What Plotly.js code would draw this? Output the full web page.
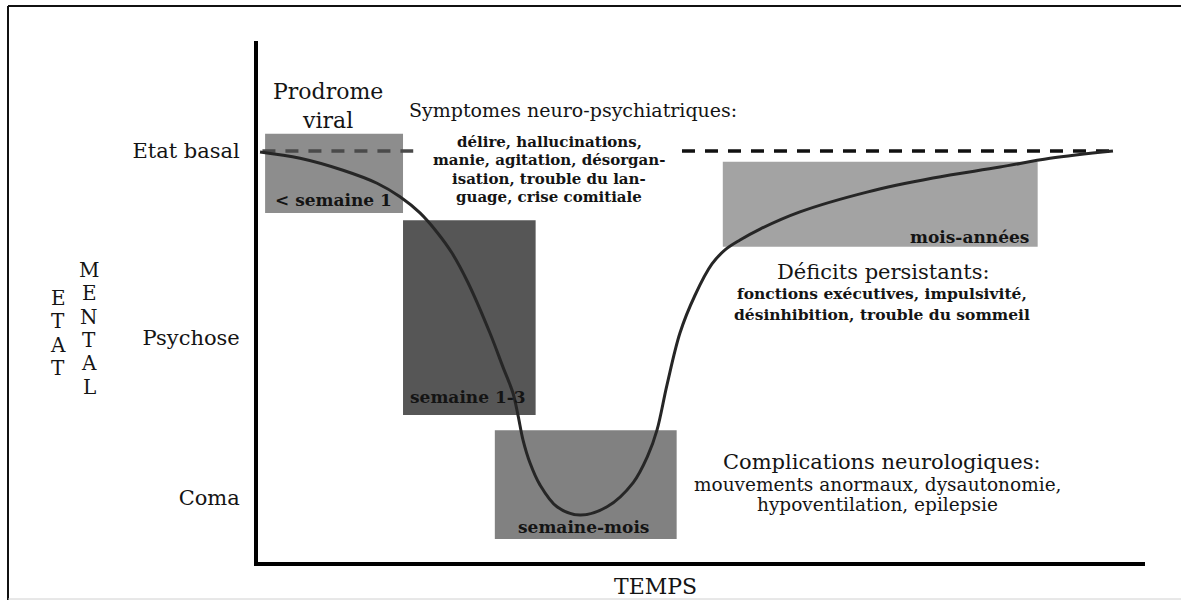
<!DOCTYPE html>
<html><head><meta charset="utf-8">
<script src="https://cdn.plot.ly/plotly-3.0.1.min.js"></script>
<style>html,body{margin:0;padding:0;background:#fff;}#chart{width:1181px;height:600px;}</style>
</head><body><div id="chart"></div>
<script>
// ---- data ----
const timeX  = [0.23, 4.74, 9.58, 13.42, 16.01, 18.26, 20.18, 21.87, 23.68, 26.16, 27.62, 28.75, 29.31, 29.88, 30.67, 31.79, 33.71, 36.30, 39.35, 42.28, 43.97, 44.98, 46.11, 47.58, 49.27, 51.18, 52.65, 54.34, 56.60, 61.10, 68.66, 76.10, 83.65, 89.29, 96.39];
const stateY = [78.7, 77.5, 75.2, 72.7, 70.1, 67.0, 63.3, 59.3, 53.6, 43.9, 37.4, 32.4, 28.2, 23.4, 19.0, 14.8, 10.6, 9.0, 10.6, 15.2, 20.5, 25.3, 34.0, 44.0, 51.2, 57.2, 59.9, 61.8, 63.9, 67.2, 71.0, 73.7, 75.8, 77.5, 78.9];
const levelNames  = ['Coma', 'Psychose', 'Etat basal'];
const levelValues = [12.3, 43.0, 78.9];
const baselineStart = [0.5, 47.8];
const baselineEnd   = [17.5, 96.4];
const phaseLabels = ['< semaine 1', 'semaine 1-3', 'semaine-mois', 'mois-années'];
const phaseStart  = [0.8, 16.35, 26.7, 52.4];
const phaseEnd    = [16.35, 31.3, 47.2, 87.9];
const phaseLow    = [67.0, 28.2, 4.4, 60.5];
const phaseHigh   = [82.2, 65.6, 25.3, 76.8];
const prodromeTitle = ['Prodrome', 'viral'];
const symptomTitle = 'Symptomes neuro-psychiatriques:';
const symptomLines = ['délire, hallucinations,', 'manie, agitation, désorgan-', 'isation, trouble du lan-', 'guage, crise comitiale'];
const deficitTitle = 'Déficits persistants:';
const deficitLines = ['fonctions exécutives, impulsivité,', 'désinhibition, trouble du sommeil'];
const complTitle = 'Complications neurologiques:';
const complLines = ['mouvements anormaux, dysautonomie,', 'hypoventilation, epilepsie'];
const xTitle = 'TEMPS';
const yTitleWords = ['ETAT', 'MENTAL'];

// ---- layout helpers (pixel -> paper) ----
const L = 258, R = 1145, T = 41, B = 562;
const px = x => (x - L) / (R - L);
const py = y => (B - y) / (B - T);
const SERIF = 'DejaVu Serif, Liberation Serif, serif';
const INK = '#141414';

const boxColors = ['#8d8d8d', '#565656', '#818181', '#a3a3a3'];

const shapes = [];
phaseLabels.forEach((_, i) => {
  shapes.push({type: 'rect', xref: 'x', yref: 'y', layer: 'below',
    x0: phaseStart[i], x1: phaseEnd[i], y0: phaseLow[i], y1: phaseHigh[i],
    fillcolor: boxColors[i], line: {width: 0}});
});
// outer frame
shapes.push({type: 'line', xref: 'paper', yref: 'paper', x0: px(8), x1: px(1181), y0: py(6), y1: py(6), line: {color: '#111', width: 2}});
shapes.push({type: 'line', xref: 'paper', yref: 'paper', x0: px(8), x1: px(8), y0: py(6), y1: py(600), line: {color: '#111', width: 2}});
shapes.push({type: 'line', xref: 'paper', yref: 'paper', x0: px(8), x1: px(1181), y0: py(599), y1: py(599), line: {color: '#d0d0d0', width: 1}});

const ann = [];
function addText(text, x, y, size, opts) {
  ann.push(Object.assign({text: text, xref: 'paper', yref: 'paper', x: px(x), y: py(y),
    showarrow: false, xanchor: 'center', yanchor: 'middle',
    font: {family: SERIF, size: size, color: INK}}, opts || {}));
}
// box labels
const boxLabelPos = [[273, 200, 'left'], [408, 397, 'left'], [583, 527, 'center'], [1031, 237, 'right']];
phaseLabels.forEach((t, i) => {
  addText('<b>' + t + '</b>', boxLabelPos[i][0], boxLabelPos[i][1], 17, {xanchor: boxLabelPos[i][2]});
});
addText(prodromeTitle.join('<br>'), 328, 106, 22);
addText(symptomTitle, 573, 110, 19);
symptomLines.forEach((t, i) => addText('<b>' + t + '</b>', 549, 142 + i * 18.3, 15));
addText(deficitTitle, 883, 272, 21);
deficitLines.forEach((t, i) => addText('<b>' + t + '</b>', 882, 293 + i * 22, 15.5));
addText(complTitle, 881, 462, 21);
complLines.forEach((t, i) => addText(t, 877, 484 + i * 20, 18.5));
addText(xTitle, 655, 586, 22);
// vertical y title letters
const colX = [58, 89], colY0 = [298, 270], step = 23.3;
yTitleWords.forEach((w, c) => {
  w.split('').forEach((ch, k) => addText(ch, colX[c], colY0[c] + k * step, 20));
});

const traces = [];
baselineStart.forEach((s, i) => {
  traces.push({type: 'scatter', mode: 'lines', x: [s, baselineEnd[i]], y: [levelValues[2], levelValues[2]],
    line: {color: i === 0 ? '#4a4a4a' : '#111', width: 3.5, dash: '13px,10px'}, hoverinfo: 'skip'});
});
traces.push({type: 'scatter', mode: 'lines', x: timeX, y: stateY,
  line: {color: '#262626', width: 3, shape: 'spline', smoothing: 1}, hoverinfo: 'skip'});

const layout = {
  width: 1181, height: 600,
  margin: {l: L, r: 1181 - R, t: T, b: 600 - B},
  paper_bgcolor: '#fff', plot_bgcolor: '#fff',
  showlegend: false,
  xaxis: {range: [0, 100], showgrid: false, zeroline: false, showticklabels: false, ticks: '',
    showline: true, linecolor: '#000', linewidth: 4, fixedrange: true},
  yaxis: {range: [0, 100], showgrid: false, zeroline: false, ticks: '',
    tickmode: 'array', tickvals: levelValues, ticktext: levelNames,
    tickfont: {family: SERIF, size: 21, color: INK}, ticklabelstandoff: 10,
    showline: true, linecolor: '#000', linewidth: 4, fixedrange: true},
  shapes: shapes,
  annotations: ann
};
Plotly.newPlot('chart', traces, layout, {displayModeBar: false, staticPlot: true});
</script>
</body></html>
